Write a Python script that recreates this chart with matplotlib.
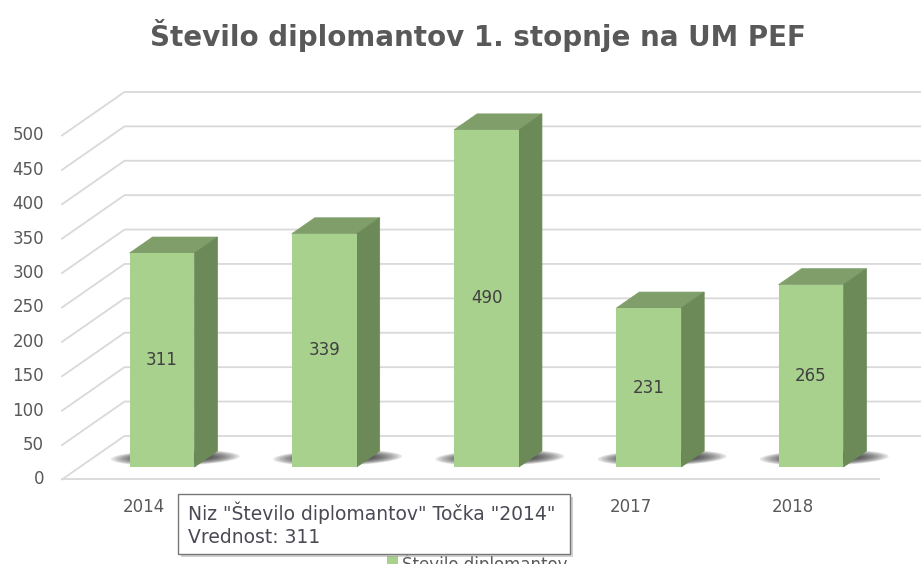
import numpy as np
import matplotlib
matplotlib.use('Agg')
import matplotlib.pyplot as plt
from matplotlib.patches import Polygon, Rectangle

plt.rcParams['font.family'] = ['DejaVu Sans']

# data
title = "Število diplomantov 1. stopnje na UM PEF"
series_name = "Število diplomantov"
years = ["2014", "2015", "2016", "2017", "2018"]
values = [311, 339, 490, 231, 265]
y_ticks = [0, 50, 100, 150, 200, 250, 300, 350, 400, 450, 500]

# styling
FRONT = "#A9D18E"
TOP = "#7F9E6A"
SIDE = "#6B8A58"
GRID = "#D9D9D9"
TXT = "#595959"
LBL = "#404040"

W, H = 921, 564
PX_X = 162.25       # pixels per category
PX_V = 0.688        # pixels per value unit
X0_PX, V0_PX = 162, 467

BAR_W = 0.4
DZX = 23 / PX_X     # depth offset of one bar depth (category units)
DZV = 16 / PX_V     # depth offset of one bar depth (value units)
ZB = 1.94           # back wall depth
ZF = -0.78          # front floor edge depth
WALL_L = -0.506     # left wall x at z=0
FLOOR_R = 4.53      # right floor x at z=0


def depth(x, v, z):
    return x + z * DZX, v + z * DZV


fig = plt.figure(figsize=(W / 100, H / 100), dpi=100)
ax = fig.add_axes([0, 0, 1, 1])
ax.set_xlim(-X0_PX / PX_X, (W - X0_PX) / PX_X)
ax.set_ylim(-(H - V0_PX) / PX_V, V0_PX / PX_V)
ax.axis('off')

# walls: left obliques + back horizontals
for g in y_ticks:
    fx, fv = depth(WALL_L, g, ZF)
    bx, bv = depth(WALL_L, g, ZB)
    ax.plot([fx, bx, 10], [fv, bv, bv], color=GRID, lw=1.3, zorder=1,
            solid_joinstyle='miter')
    ax.text(fx - 0.11, fv, str(g), ha='right', va='center',
            fontsize=12, color=TXT)

# floor front edge
fx, fv = depth(WALL_L, 0, ZF)
rx, rv = depth(FLOOR_R, 0, ZF)
ax.plot([fx, rx], [fv, rv], color=GRID, lw=1.3, zorder=1)

xs = np.arange(len(values))

# soft shadows on the floor (blurred ellipse in the floor plane)
t = np.linspace(0, 2 * np.pi, 60)
for x in xs:
    for s in np.linspace(1, 0.1, 10):
        hu = BAR_W / 2 + 0.19 * s
        hz = 0.2 + 0.3 * s
        u = x + hu * np.cos(t)
        zz = 0.58 + hz * np.sin(t)
        px, pv = depth(u, 0, zz)
        ax.add_patch(Polygon(np.column_stack([px, pv]), closed=True,
                             facecolor='#202020', edgecolor='none',
                             alpha=0.12, zorder=2))

# bars: front face, top face, side face
ax.bar(xs, values, width=BAR_W, color=FRONT, edgecolor='none', zorder=4)
for x, v in zip(xs, values):
    l, r = x - BAR_W / 2, x + BAR_W / 2
    top = [(l, v), (r, v), depth(r, v, 1), depth(l, v, 1)]
    side = [(r, 0), (r, v), depth(r, v, 1), depth(r, 0, 1)]
    ax.add_patch(Polygon(top, closed=True, facecolor=TOP, edgecolor=TOP,
                         lw=0.5, zorder=3))
    ax.add_patch(Polygon(side, closed=True, facecolor=SIDE, edgecolor=SIDE,
                         lw=0.5, zorder=3))
    ax.text(x, v / 2, str(v), ha='center', va='center', fontsize=12,
            color=LBL, zorder=5)

# category labels
for x, yr in zip(xs, years):
    lx, lv = depth(x, 0, ZF)
    ax.text(lx, lv - 40, yr, ha='center', va='center', fontsize=12,
            color=TXT, zorder=5)

# overlay in pixel coordinates: title, tooltip, legend
ov = fig.add_axes([0, 0, 1, 1])
ov.set_xlim(0, W)
ov.set_ylim(H, 0)
ov.axis('off')
ov.patch.set_alpha(0)

ov.text(478, 36, title, ha='center', va='center', fontsize=20,
        fontweight='bold', color=TXT)

# legend (cut by the bottom edge)
ov.add_patch(Rectangle((387, 556), 11, 11, facecolor=FRONT, edgecolor='none'))
ov.text(402, 553, series_name, ha='left', va='top', fontsize=12, color=TXT)

# hover tooltip
ov.add_patch(Rectangle((181, 497), 392, 60, facecolor='#9a9a9a',
                       edgecolor='none', alpha=0.45, zorder=6))
ov.add_patch(Rectangle((178, 494), 392, 60, facecolor='white',
                       edgecolor='#767676', lw=1.0, zorder=7))
tip = f'Niz "{series_name}" Točka "{years[0]}"\nVrednost: {values[0]}'
ov.text(188, 524, tip, ha='left', va='center', fontsize=13.5,
        color='#4a4a55', linespacing=1.3, zorder=8)

fig.savefig("out.png", dpi=100, facecolor='white')
